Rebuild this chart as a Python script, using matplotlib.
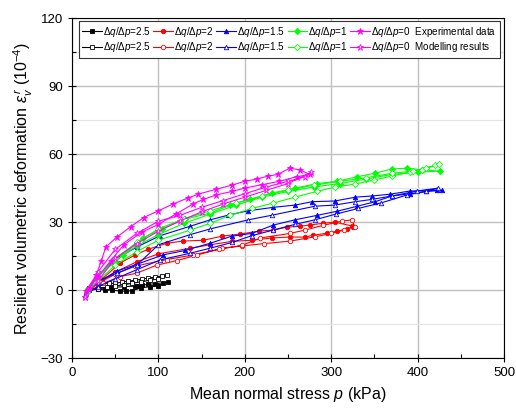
import matplotlib.pyplot as plt
from matplotlib.ticker import MultipleLocator

plt.rcParams['font.family'] = ['Liberation Sans', 'DejaVu Sans']
plt.rcParams['mathtext.fontset'] = 'custom'
plt.rcParams['mathtext.rm'] = 'Liberation Sans'
plt.rcParams['mathtext.it'] = 'Liberation Sans:italic'

ratios = ['2.5', '2', '1.5', '1', '0']
colors = ['#000000', '#ff0000', '#0000ff', '#00ff00', '#ff00ff']
markers = ['s', 'o', '^', 'D', '*']

# experimental data, loading branch then unloading branch (p in kPa, strain in 1e-4)
p_exp25 = [20, 30, 38, 46, 56, 63, 70, 80, 90, 100, 111, 105, 96, 88, 81, 76, 73, 60, 45, 30, 20]
e_exp25 = [0.5, 0.5, 0, 0, -0.4, -0.5, -0.2, 1, 1.5, 2, 3.5, 3.2, 2.8, 2.5, 2.2, 2, 1.8, 1.5, 1.2, 1, 0.5]

p_exp2 = [18, 30, 50, 75, 100, 137, 160, 185, 208, 231, 252, 270, 279, 295, 307, 318, 325,
          324, 304, 291, 275, 264, 249, 233, 216, 194, 174, 152, 128, 110, 88, 73, 56, 35, 18]
e_exp2 = [0, 3, 8, 12.5, 16, 18.5, 20, 21.5, 22, 23, 23.4, 23.4, 24.2, 25.1, 26, 27, 28,
          28.3, 30, 29.5, 28.7, 28.2, 27.8, 26.5, 26, 24.7, 23.8, 22, 21.6, 20.7, 18, 15.5, 12, 5, 0]

p_exp15 = [18, 30, 52, 76, 105, 131, 160, 185, 208, 233, 258, 284, 307, 330, 351, 370, 391, 410, 428,
           422, 391, 368, 347, 328, 304, 278, 258, 233, 204, 180, 160, 137, 102, 75, 47, 30, 18]
e_exp15 = [0, 3.5, 8.4, 11.5, 15.5, 17.5, 20.7, 23.8, 25, 28.7, 31, 33, 34.8, 37, 39, 41.5, 42.5, 43.5, 44,
           44, 43.7, 42.3, 41.5, 41, 39.3, 39, 37.5, 36.5, 35, 33, 31, 28.2, 24, 19, 13, 6, 0]

p_exp1 = [18, 30, 50, 75, 100, 130, 160, 190, 220, 250, 280, 310, 340, 370, 400, 426,
          405, 388, 370, 351, 330, 307, 284, 258, 231, 206, 183, 160, 131, 104, 82, 59, 47, 30, 17]
e_exp1 = [0.5, 6, 13, 19.5, 24.5, 29.5, 33.5, 37.5, 41, 43.5, 45.5, 47, 49, 51, 52, 52.5,
          53, 53.8, 53.4, 51.6, 50, 48, 47, 45, 42.8, 40, 37.5, 34, 31.3, 27, 23, 15.5, 11.5, 6, 0]

p_exp0 = [20, 30, 45, 60, 81, 100, 120, 140, 152, 167, 185, 200, 220, 240, 260, 275,
          264, 252, 238, 227, 214, 200, 185, 167, 146, 134, 117, 100, 83, 68, 52, 39, 34, 28, 16]
e_exp0 = [1, 6, 13, 20, 25.6, 29, 33.5, 38, 40, 42, 43.5, 45, 46.5, 48, 50, 51,
          53, 53.8, 51, 50.3, 49, 48, 46.3, 44.5, 42.3, 40.6, 38, 35, 32, 28, 23.4, 19, 12.8, 6.6, -0.4]

# modelling results, same order
p_mod25 = [20, 34, 43, 50, 58, 65, 73, 81, 88, 96, 104, 110, 100, 90, 80, 70, 60, 50, 40, 30, 20]
e_mod25 = [1, 3, 3, 3, 3.5, 4, 4.3, 4.9, 5.3, 5.7, 6.2, 6.6, 5.0, 4.3, 3.7, 3.0, 2.4, 1.8, 1.2, 0.5, 0]

p_mod2 = [16, 36, 56, 75, 98, 121, 145, 174, 197, 222, 252, 281, 300, 315, 327,
          324, 312, 290, 270, 252, 218, 197, 170, 140, 110, 73, 50, 30, 16]
e_mod2 = [-1.5, 3, 6, 7.5, 11, 13, 15.5, 18.5, 19.5, 20.5, 21.6, 23.5, 25, 26.5, 28,
          31, 30.4, 28.5, 26.5, 25, 23, 19.8, 18, 15.5, 13.5, 10.6, 7, 3, -1.5]

p_mod15 = [15, 30, 50, 75, 102, 137, 160, 185, 208, 233, 258, 281, 305, 331, 358, 388, 410, 424,
           399, 370, 347, 328, 304, 281, 231, 204, 160, 137, 100, 75, 52, 30, 15]
e_mod15 = [-2, 1.5, 5, 9, 13.3, 16.3, 18.5, 21, 24, 26.5, 29, 31, 33.5, 36, 38.5, 42, 43.5, 45,
           43.7, 41.5, 40, 39, 37.5, 37, 33, 31, 27, 24.5, 20, 11, 7.5, 4, -2]

p_mod1 = [17, 30, 50, 75, 100, 137, 160, 183, 208, 233, 258, 284, 304, 328, 349, 370, 391, 405, 420, 425,
          410, 395, 370, 340, 310, 280, 250, 220, 190, 160, 130, 100, 75, 50, 30, 17]
e_mod1 = [-1, 4, 11, 17, 22, 26.5, 29.5, 33, 36, 38.4, 41, 43.6, 45.4, 46.8, 48.5, 50.3, 52, 53, 55, 55.5,
          54, 52.5, 51.5, 49.5, 48, 46.3, 44, 41.5, 38.5, 35, 31.5, 27, 21, 14, 6, -1]

p_mod0 = [15, 30, 50, 75, 100, 125, 150, 175, 200, 225, 250, 277,
          270, 250, 225, 200, 175, 150, 125, 100, 75, 50, 30, 15]
e_mod0 = [-3, 4, 14, 20.5, 26, 30.5, 34.5, 38, 41, 44, 47, 52,
          50, 48, 45.5, 42.5, 39.5, 36.5, 33, 30.4, 25, 18, 8, -3]

exp_p = [p_exp25, p_exp2, p_exp15, p_exp1, p_exp0]
exp_e = [e_exp25, e_exp2, e_exp15, e_exp1, e_exp0]
mod_p = [p_mod25, p_mod2, p_mod15, p_mod1, p_mod0]
mod_e = [e_mod25, e_mod2, e_mod15, e_mod1, e_mod0]

fig = plt.figure(figsize=(5.16, 4.15), dpi=100)
ax = fig.add_axes([0.1395, 0.137, 0.8375, 0.8196])

handles = []
labels = []
for i in range(5):
    ms = 4.5 if markers[i] == '*' else 3.2
    h1, = ax.plot(exp_p[i], exp_e[i], color=colors[i], marker=markers[i], ms=ms, lw=0.8,
                  markerfacecolor=colors[i], markeredgewidth=0.6, zorder=3)
    h2, = ax.plot(mod_p[i], mod_e[i], color=colors[i], marker=markers[i], ms=ms, lw=0.8,
                  markerfacecolor='white', markeredgewidth=0.6, zorder=3)
    handles += [h1, h2]
    lab = r'$\Delta q/\Delta p$=' + ratios[i]
    if i == 4:
        labels += [lab + '  Experimental data', lab + '  Modelling results']
    else:
        labels += [lab, lab]

ax.set_xlim(0, 500)
ax.set_ylim(-30, 120)
ax.xaxis.set_major_locator(MultipleLocator(100))
ax.xaxis.set_minor_locator(MultipleLocator(50))
ax.yaxis.set_major_locator(MultipleLocator(30))
ax.yaxis.set_minor_locator(MultipleLocator(15))
ax.tick_params(which='major', direction='inout', length=6, width=0.8, labelsize=9.5)
ax.tick_params(which='minor', direction='in', length=3, width=0.8)
ax.grid(which='major', color='#c0c0c0', lw=1)
ax.grid(which='minor', axis='y', color='#e4e4e4', lw=0.8)
ax.set_axisbelow(True)
ax.set_xlabel('Mean normal stress $p$ (kPa)', fontsize=11.5)
ax.set_ylabel(r'Resilient volumetric deformation $\varepsilon_v^{\,r}$ (10$^{-4}$)', fontsize=11.5)

leg = ax.legend(handles, labels, ncol=5, loc='upper right', bbox_to_anchor=(0.99, 0.99),
                fontsize=7.1, handlelength=2.0, handletextpad=0.1, columnspacing=0.25,
                borderpad=0.35, labelspacing=0.15, fancybox=False, edgecolor='#333333',
                framealpha=1, borderaxespad=0)
leg.get_frame().set_linewidth(0.8)

fig.savefig('out.png', dpi=100)
